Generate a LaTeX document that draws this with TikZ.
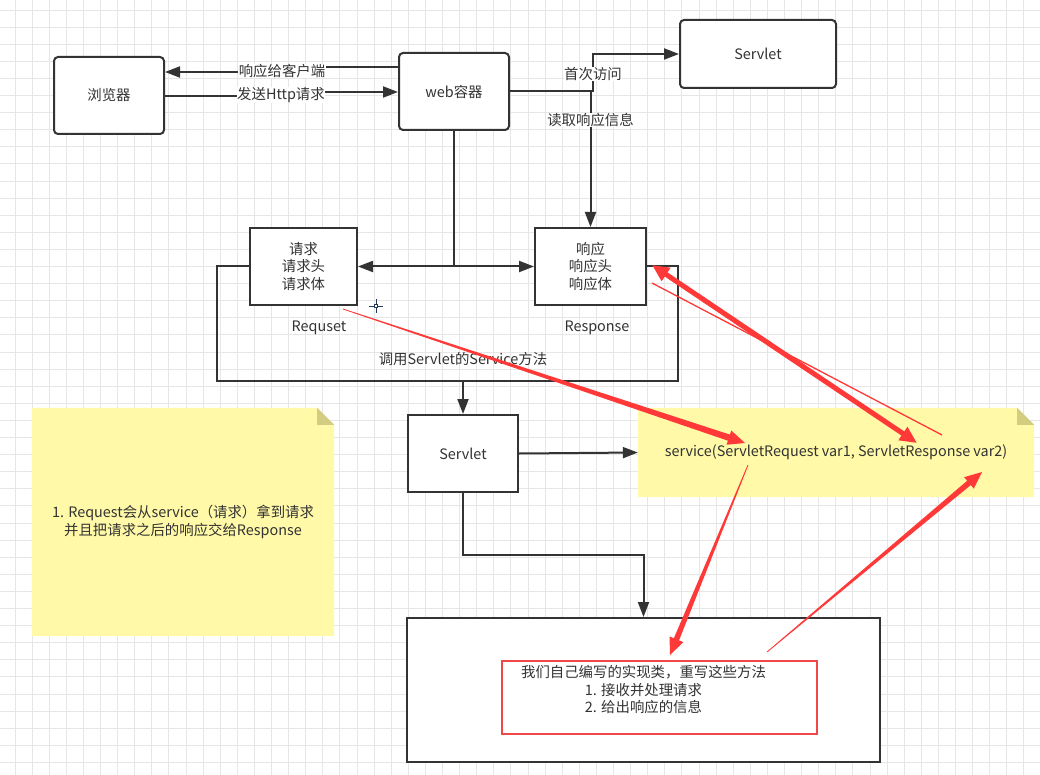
\documentclass[tikz,border=0pt]{standalone}
\usepackage{fontspec}
\setmainfont{Noto Sans CJK SC}
\usetikzlibrary{arrows.meta,calc}
\pgfdeclarelayer{bg}
\pgfsetlayers{bg,main}
\definecolor{ink}{HTML}{333333}
\definecolor{gridc}{HTML}{E6E6E6}
\definecolor{notefill}{HTML}{FFF9A8}
\definecolor{notefold}{HTML}{D3CD82}
\definecolor{redann}{HTML}{FF3838}
\definecolor{redbox}{HTML}{F04848}
\definecolor{cursorc}{HTML}{1F3A5A}
\newcommand\taperarrow[4]{%
  \path ($(#2)!17pt!(#1)$) coordinate (tpE);
  \fill[redann] ($(#1)!#3!90:(#2)$) -- ($(tpE)!#4!-90:(#1)$) -- ($(tpE)!7.5pt!-90:(#1)$) -- (#2) -- ($(tpE)!7.5pt!90:(#1)$) -- ($(tpE)!#4!90:(#1)$) -- ($(#1)!#3!-90:(#2)$) -- cycle;
}
\begin{document}
\begin{tikzpicture}[x=1pt,y=-1pt,
  every node/.style={text=ink,font=\fontsize{14.4}{17.5}\selectfont,inner sep=1pt},
  rbox/.style={draw=ink,line width=2pt,rounded corners=4pt,fill=white},
  sbox/.style={draw=ink,line width=2pt,fill=white},
  conn/.style={draw=ink,line width=2pt},
  arr/.style={-{Triangle[length=15pt,width=11pt]}},
  lbl/.style={fill=white,inner sep=0.5pt},
  notebox/.style={align=center}
]
\useasboundingbox (0,0) rectangle (1040,775);
\begin{pgfonlayer}{bg}
\fill[white] (0,0) rectangle (1040,775);
\foreach \i in {0,...,61} {\draw[gridc,line width=0.9pt] ({15+17.1*\i},0) -- ({15+17.1*\i},775);}
\foreach \j in {0,...,45} {\draw[gridc,line width=0.9pt] (0,{10+17.1*\j}) -- (1040,{10+17.1*\j});}
\end{pgfonlayer}

% notes (shapes drawn on bg layer)
\node[notebox,minimum width=396pt,minimum height=89pt] (noteR) at (836,452.5) {service(ServletRequest var1, ServletResponse var2)};
\node[notebox,minimum width=302pt,minimum height=228pt] (noteL) at (183,522) {1. Request会从service（请求）拿到请求\\并且把请求之后的响应交给Response};
\begin{pgfonlayer}{bg}
\fill[notefill] (noteR.north west) -- ($(noteR.north east)+(-17,0)$) -- ($(noteR.north east)+(0,17)$) -- (noteR.south east) -- (noteR.south west) -- cycle;
\fill[notefold] ($(noteR.north east)+(-17,0)$) -- ($(noteR.north east)+(0,17)$) -- ($(noteR.north east)+(-17,17)$) -- cycle;
\fill[notefill] (noteL.north west) -- ($(noteL.north east)+(-17,0)$) -- ($(noteL.north east)+(0,17)$) -- (noteL.south east) -- (noteL.south west) -- cycle;
\fill[notefold] ($(noteL.north east)+(-17,0)$) -- ($(noteL.north east)+(0,17)$) -- ($(noteL.north east)+(-17,17)$) -- cycle;
\end{pgfonlayer}

% boxes
\node[rbox,minimum width=110pt,minimum height=77pt] (browser) at (109,95.5) {浏览器};
\node[rbox,minimum width=110pt,minimum height=77pt] (web) at (454,91.5) {web容器};
\node[rbox,minimum width=156pt,minimum height=68pt] (servletTop) at (758,54) {Servlet};
\node[sbox,minimum width=107pt,minimum height=77pt,align=center] (req) at (303.5,266.5) {请求\\请求头\\请求体};
\node[sbox,minimum width=111pt,minimum height=77pt,align=center] (resp) at (590.5,266.5) {响应\\响应头\\响应体};
\node[sbox,minimum width=110pt,minimum height=77pt] (servletMid) at (463,453.5) {Servlet};
\node[sbox,minimum width=473pt,minimum height=144pt,align=center] (impl) at (643.5,690) {我们自己编写的实现类，重写这些方法\\1. 接收并处理请求\\2. 给出响应的信息};
\node[draw=redbox,line width=2.6pt,minimum width=315pt,minimum height=73pt] (redframe) at (659.5,697.5) {};

% connectors browser <-> web
\draw[conn,arr] ([yshift=24.5pt]web.west) -- (282,67) -- (282,72) -- ([yshift=23.5pt]browser.east);
\node[lbl] (lblResp) at (282,71) {响应给客户端};
\draw[conn,arr] ([yshift=-0.5pt]browser.east) -- (282,96) -- (282,92) -- ([yshift=-0.5pt]web.west);
\node[lbl] (lblSend) at (281,95) {发送Http请求};

% web -> servlet (first access)
\draw[conn,arr] (web.east) -- (593,91.5) -- (593,54) -- (servletTop.west);
\node[lbl] (lblFirst) at (593,74) {首次访问};
\coordinate (readStart) at (590.5,91.5);
\draw[conn,arr] (readStart) -- (resp.north);
\node[lbl] (lblRead) at (590.5,120) {读取响应信息};

% web -> request / response
\coordinate (split) at (web.south |- req.east);
\draw[conn] (web.south) -- (split);
\draw[conn,arr] (split) -- (req.east);
\draw[conn,arr] (split) -- (resp.west);

% outer loop
\draw[conn] (req.west) -- (217,266.5) -- (217,381) -- (678,381) -- (678,266.5) -- (resp.east);
\node (lblCall) at (463,359) {调用Servlet的Service方法};
\node (lblReq) at (319,328) {Requset};
\node (lblRes) at (597,328) {Response};
\coordinate (loopBot) at (servletMid.north |- 0,381);
\draw[conn,arr] (loopBot) -- (servletMid.north);

% servlet -> note, servlet -> impl
\draw[conn,arr] (servletMid.east) -- (noteR.west);
\draw[conn,arr] (servletMid.south) -- (463,555) -- (643.5,555) -- (impl.north);

% cursor artifact
\draw[cursorc,line width=0.8pt] (369,306) -- (383,306) (376,299) -- (376,313);
\draw[fill=white,draw=cursorc,line width=0.8pt] (374.3,304.3) rectangle (377.7,307.7);

% red annotations
\coordinate (a1s) at (343,309); \coordinate (a1t) at (745,443);
\taperarrow{a1s}{a1t}{0.4pt}{3.2pt}
\coordinate (a2s) at (652,265); \coordinate (a2t) at (917,443);
\draw[redann,line width=5pt,{Triangle[length=17pt,width=15pt]}-{Triangle[length=17pt,width=15pt]}] (a2s) -- (a2t);
\coordinate (a3s) at (652,283); \coordinate (a3t) at (942,435);
\draw[redann,line width=1.3pt] (a3s) -- (a3t);
\coordinate (a4s) at (748,465); \coordinate (a4t) at (670,655);
\taperarrow{a4s}{a4t}{0.4pt}{2.8pt}
\coordinate (a5s) at (767,652); \coordinate (a5t) at (982,472);
\taperarrow{a5s}{a5t}{0.4pt}{2.8pt}
\end{tikzpicture}
\end{document}
